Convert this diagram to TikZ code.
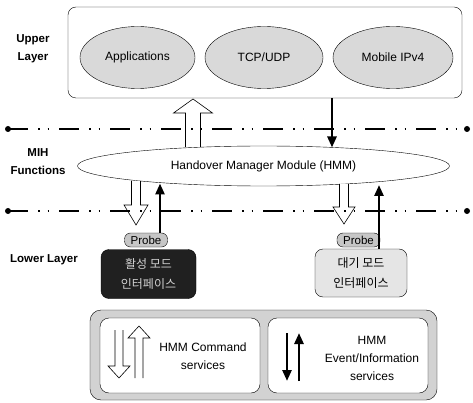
\documentclass[tikz,border=0pt]{standalone}
\usepackage{fontspec}
\setmainfont{Liberation Sans}
\newfontfamily\krfont{Noto Sans CJK KR}
\usetikzlibrary{arrows.meta,shapes.geometric}
\newcommand{\blkarrow}[6]{%
  \pgfmathsetmacro\hbase{#3-sign(#3-#2)*#6}%
  \draw[hollowarr] (#1-#4,#2) -- (#1-#4,\hbase) -- (#1-#5,\hbase) -- (#1,#3) -- (#1+#5,\hbase) -- (#1+#4,\hbase) -- (#1+#4,#2);
}
\tikzset{
  lbl/.style={font=\fontsize{11.5}{18}\selectfont\bfseries, align=center},
  upell/.style={draw, ellipse, fill=gray!30, minimum height=62pt, inner sep=0pt},
  mihline/.style={line width=2.2pt, dash pattern=on 20pt off 10pt on 1.5pt off 8pt on 1.5pt off 10pt},
  hollowarr/.style={draw, fill=white, line width=0.6pt, line join=miter},
  blk/.style={line width=2.6pt, -{Triangle[length=11pt,width=9pt]}},
  probebox/.style={draw, fill=gray!45, rounded corners=6pt, minimum width=43pt, minimum height=14pt, inner sep=0pt, font=\fontsize{11.5}{12}\selectfont},
  ifbox/.style={draw, rounded corners=8pt, inner sep=0pt, align=center, font=\krfont\fontsize{12}{20}\selectfont},
  svcbox/.style={draw, fill=white, rounded corners=9pt, minimum width=160pt, minimum height=75pt, inner sep=0pt}
}
\begin{document}
\begin{tikzpicture}[x=1pt,y=-1pt, font=\fontsize{12}{18}\selectfont]
\useasboundingbox (0,0) rectangle (473,403);

% Upper layer
\node[draw, rounded corners=8pt, minimum width=394pt, minimum height=91pt, inner sep=0pt] (upper) at (265,52.5) {};
\node[upell, minimum width=115pt] (app) at (137.5,57.5) {Applications};
\node[upell, minimum width=118pt] (tcp) at (264,57.5) {TCP/UDP};
\node[upell, minimum width=120pt] (mip) at (393,57.5) {Mobile IPv4};
\node[lbl] (ul) at (33,49) {Upper\\Layer};

% HMM
\node[draw, ellipse, fill=white, minimum width=372pt, minimum height=40pt, inner sep=0pt] (hmm) at (263.5,166) {Handover Manager Module (HMM)};
\node[lbl] (mih) at (38,162) {MIH\\Functions};

% hollow arrows (behind separator lines)
\blkarrow{193}{147}{99}{7.5}{19.5}{14}
\blkarrow{136}{181}{225}{4.5}{12}{20}
\blkarrow{344}{184}{224}{4.5}{11}{17}

% separator lines
\coordinate (l1a) at (8,129);
\coordinate (l1b) at (467,129);
\coordinate (l2a) at (8,211);
\coordinate (l2b) at (467,211);
\draw[mihline] (l1a) -- (l1b);
\draw[mihline] (l2a) -- (l2b);
\fill (l1a) circle (3pt) (l1b) circle (3pt) (l2a) circle (3pt) (l2b) circle (3pt);

% black arrows
\coordinate (d1a) at (332,98);
\coordinate (d1b) at (332,147.5);
\draw[blk] (d1a) -- (d1b);

% Lower layer
\node[lbl] (ll) at (44,260) {Lower Layer};
\node[probebox] (probe1) at (146,240) {Probe};
\node[ifbox, fill=gray!25!black, text=gray!35, minimum width=95pt, minimum height=49pt] (act) at (148.5,274) {활성 모드\\인터페이스};
\node[probebox] (probe2) at (358.5,240) {Probe};
\node[ifbox, fill=gray!20, minimum width=92pt, minimum height=48pt] (stby) at (361,273) {대기 모드\\인터페이스};

\coordinate (u1b) at (160,183.5);
\draw[blk] (probe1.north -| u1b) -- (u1b);
\coordinate (u2a) at (379,249);
\coordinate (u2b) at (379,185);
\draw[blk] (u2a) -- (u2b);

% services box
\node[draw, fill=gray!35, rounded corners=11pt, minimum width=347pt, minimum height=90pt, inner sep=0pt] (bot) at (263.5,355) {};
\node[svcbox] (cmd) at (180,355.5) {};
\node[svcbox] (evt) at (348,355.5) {};
\blkarrow{119}{330}{378}{4}{11}{12}
\blkarrow{139}{378}{326}{4}{11}{12}
\node[align=center] (cmdtxt) at (203,356) {HMM Command\\services};
\coordinate (e1a) at (287,333);
\coordinate (e1b) at (287,381);
\coordinate (e2a) at (299,381);
\coordinate (e2b) at (299,333);
\draw[blk] (e1a) -- (e1b);
\draw[blk] (e2a) -- (e2b);
\node[align=center] (evttxt) at (372,358) {HMM\\Event/Information\\services};
\end{tikzpicture}
\end{document}
